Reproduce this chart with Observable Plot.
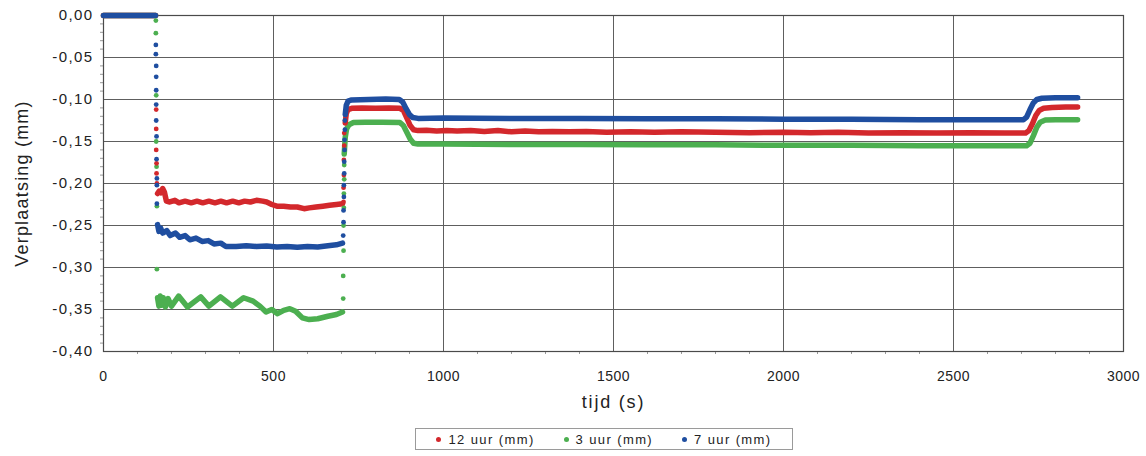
<!DOCTYPE html>
<html>
<head>
<meta charset="utf-8">
<script src="https://cdn.jsdelivr.net/npm/d3@7"></script>
<script src="https://cdn.jsdelivr.net/npm/@observablehq/plot@0.6"></script>
<style>
  html, body { margin: 0; padding: 0; background: #fff; font-family: "Liberation Sans", Arial, sans-serif; }
  #chart svg { display: block; font-family: "Liberation Sans", Arial, sans-serif; }
  #chart svg g[aria-label="y-axis tick label"] { font-size: 15px; letter-spacing: 1.4px; fill: #222; }
  #chart svg g[aria-label="x-axis tick label"] { font-size: 14px; letter-spacing: 0.5px; fill: #222; }
  #chart svg g[aria-label="y-axis label"] { font-size: 18px; letter-spacing: 1.2px; fill: #222; }
  #chart svg g[aria-label="x-axis label"] { font-size: 18px; letter-spacing: 1.8px; fill: #222; }
  #legend { margin: 8px 0 0 415px; width: 378px; height: 22px; border: 1px solid #9a9a9a; box-sizing: border-box;
            display: flex; align-items: center; justify-content: space-around; padding: 0 6px;
            font-family: "Liberation Sans", Arial, sans-serif; font-size: 13px; letter-spacing: 1.4px; color: #222; }
  #legend .item { display: inline-flex; align-items: center; white-space: nowrap; }
  #legend .sw { display: inline-block; width: 5px; height: 5px; border-radius: 50%; margin-right: 7px; }
</style>
</head>
<body>
<div id="chart"></div>
<div id="legend"></div>
<script>
// ---- Data ----
const seriesNames = ["12 uur (mm)", "3 uur (mm)", "7 uur (mm)"];
const seriesColors = ["#d3282c", "#4caf50", "#1f4ea0"];

const xTicks = [0, 500, 1000, 1500, 2000, 2500, 3000];
const yTicks = [0, -0.05, -0.10, -0.15, -0.20, -0.25, -0.30, -0.35, -0.40];
const xMinorTicks = d3.range(0, 3001, 100).filter(d => d % 500 !== 0);
const yMinorTicks = d3.range(-40, 1).map(d => d / 100).filter(d => Math.round(d * 100) % 5 !== 0);

// 12 uur (mm): [tijd, verplaatsing]; null breaks the line
const line12 = [
  [0,0],[153,0],[154,null],
  [159,-0.212],[164,-0.209],[169,-0.211],[174,-0.206],[179,-0.210],[185,-0.221],[195,-0.222],[210,-0.220],[222,-0.223],[240,-0.221],[258,-0.223],[275,-0.221],[292,-0.223],[310,-0.221],[328,-0.223],[345,-0.221],[362,-0.223],[380,-0.221],[398,-0.223],[415,-0.221],[432,-0.222],[450,-0.220],[468,-0.221],[480,-0.222],[495,-0.225],[510,-0.227],[530,-0.227],[550,-0.228],[570,-0.228],[590,-0.230],[605,-0.229],[625,-0.228],[645,-0.227],[665,-0.226],[685,-0.225],[703,-0.224],[704,null],
  [711,-0.128],[714,-0.117],[719,-0.112],[730,-0.1105],[760,-0.110],[800,-0.1105],[840,-0.110],[872,-0.1105],[882,-0.113],[892,-0.122],[902,-0.131],[912,-0.136],[925,-0.137],[950,-0.1365],[980,-0.1375],[1010,-0.137],[1040,-0.1375],[1080,-0.137],[1120,-0.138],[1160,-0.137],[1200,-0.1385],[1240,-0.1375],[1280,-0.1385],[1320,-0.138],[1370,-0.1385],[1420,-0.138],[1480,-0.139],[1550,-0.1385],[1620,-0.139],[1700,-0.1385],[1800,-0.139],[1900,-0.1395],[2000,-0.139],[2080,-0.1395],[2160,-0.139],[2250,-0.140],[2350,-0.1395],[2450,-0.140],[2550,-0.1395],[2650,-0.140],[2712,-0.140],[2722,-0.137],[2732,-0.129],[2742,-0.119],[2752,-0.113],[2765,-0.1105],[2790,-0.1095],[2830,-0.109],[2865,-0.109]
];
// 3 uur (mm)
const line3 = [
  [0,0],[153,0],[154,null],
  [159,-0.336],[163,-0.346],[167,-0.334],[171,-0.345],[176,-0.336],[182,-0.347],[190,-0.337],[200,-0.346],[221,-0.334],[247,-0.347],[286,-0.335],[310,-0.346],[344,-0.335],[379,-0.346],[412,-0.336],[440,-0.340],[460,-0.346],[478,-0.353],[495,-0.350],[512,-0.355],[530,-0.351],[548,-0.349],[565,-0.352],[585,-0.360],[605,-0.362],[630,-0.361],[660,-0.358],[685,-0.356],[703,-0.353],[704,null],
  [708,-0.165],[711,-0.145],[715,-0.135],[722,-0.130],[735,-0.1275],[770,-0.127],[820,-0.127],[872,-0.1275],[882,-0.131],[892,-0.139],[902,-0.147],[912,-0.152],[925,-0.153],[1000,-0.153],[1200,-0.1535],[1400,-0.1535],[1600,-0.154],[1800,-0.154],[2000,-0.1545],[2200,-0.1545],[2400,-0.155],[2600,-0.155],[2715,-0.155],[2725,-0.152],[2735,-0.143],[2745,-0.133],[2755,-0.127],[2770,-0.1245],[2800,-0.124],[2865,-0.124]
];
// 7 uur (mm)
const line7 = [
  [0,0],[153,0],[154,null],
  [159,-0.249],[163,-0.257],[168,-0.253],[174,-0.259],[186,-0.256],[196,-0.262],[212,-0.259],[224,-0.264],[240,-0.262],[254,-0.267],[272,-0.265],[290,-0.269],[308,-0.268],[325,-0.272],[345,-0.271],[360,-0.275],[390,-0.275],[420,-0.274],[450,-0.275],[480,-0.2745],[510,-0.2755],[540,-0.275],[570,-0.276],[600,-0.275],[630,-0.2755],[660,-0.274],[685,-0.273],[703,-0.271],[704,null],
  [711,-0.118],[714,-0.107],[719,-0.102],[730,-0.1005],[780,-0.100],[830,-0.0995],[870,-0.100],[880,-0.103],[890,-0.111],[900,-0.118],[910,-0.1215],[925,-0.1225],[1000,-0.122],[1200,-0.1225],[1400,-0.1225],[1600,-0.123],[1800,-0.123],[2000,-0.1235],[2200,-0.1235],[2400,-0.124],[2600,-0.124],[2706,-0.124],[2715,-0.121],[2725,-0.112],[2735,-0.104],[2745,-0.100],[2760,-0.0985],[2800,-0.098],[2865,-0.098]
];

// sparse measurement points during the fast load steps
const steps12 = [[155,-0.112],[155,-0.135],[155,-0.160],[156,-0.176],[156,-0.188],[157,-0.200],
                 [706,-0.222],[706,-0.205],[707,-0.190],[707,-0.172],[708,-0.155],[708,-0.140]];
const steps3  = [[154,-0.006],[154,-0.021],[155,-0.095],[155,-0.150],[156,-0.180],[157,-0.227],[157,-0.302],
                 [705,-0.337],[705,-0.310],[706,-0.280],[706,-0.250],[707,-0.229],[707,-0.212],[708,-0.195],[708,-0.178],[709,-0.163]];
const steps7  = [[154,-0.035],[154,-0.046],[155,-0.060],[155,-0.073],[155,-0.089],[155,-0.106],[155,-0.125],[156,-0.144],[156,-0.171],[157,-0.194],[157,-0.202],[157,-0.224],
                 [705,-0.262],[706,-0.246],[706,-0.232],[707,-0.216],[707,-0.202],[708,-0.188],[708,-0.174],[709,-0.160],[709,-0.148],[710,-0.136],[710,-0.125]];

// ---- Build tables ----
const toRows = (pairs, s) => pairs.map(([t, v]) => ({t, v, s}));
const lineRows = [...toRows(line3, seriesNames[1]), ...toRows(line12, seriesNames[0]), ...toRows(line7, seriesNames[2])];
const dotRows = [...toRows(steps3, seriesNames[1]), ...toRows(steps12, seriesNames[0]), ...toRows(steps7, seriesNames[2])];

const fmtY = d => d.toFixed(2).replace(".", ",").replace("-0,00", "0,00");

const chart = Plot.plot({
  width: 1146,
  height: 420,
  marginLeft: 103,
  marginRight: 23,
  marginTop: 15,
  marginBottom: 69,
  style: {background: "#fff", color: "#222"},
  x: {domain: [0, 3000]},
  y: {domain: [-0.4, 0]},
  color: {domain: seriesNames, range: seriesColors},
  marks: [
    Plot.gridY(yTicks, {stroke: "#5e5e5e", strokeOpacity: 1, strokeWidth: 1}),
    Plot.gridX(xTicks, {stroke: "#5e5e5e", strokeOpacity: 1, strokeWidth: 1}),
    Plot.axisY(yMinorTicks, {tickSize: 3, tickFormat: () => "", stroke: "#999", label: null}),
    Plot.axisX(xMinorTicks, {tickSize: 3, tickFormat: () => "", stroke: "#999", label: null}),
    Plot.axisY(yTicks, {tickSize: 0, tickPadding: 10, tickFormat: fmtY, label: "Verplaatsing (mm)", labelAnchor: "center", labelOffset: 88, labelArrow: "none"}),
    Plot.axisX(xTicks, {tickSize: 0, tickPadding: 20, tickFormat: d => String(d), label: "tijd (s)", labelAnchor: "center", labelOffset: 56, labelArrow: "none"}),
    Plot.frame({stroke: "#4a4a4a", strokeWidth: 1.2}),
    Plot.line(lineRows, {x: "t", y: "v", z: "s", stroke: "s", strokeWidth: 5.5, strokeLinecap: "round", strokeLinejoin: "round"}),
    Plot.dot(dotRows, {x: "t", y: "v", fill: "s", r: 2.4})
  ]
});
document.getElementById("chart").append(chart);

// legend below the chart
const legend = document.getElementById("legend");
seriesNames.forEach((name, i) => {
  const item = document.createElement("span");
  item.className = "item";
  const sw = document.createElement("span");
  sw.className = "sw";
  sw.style.background = seriesColors[i];
  item.append(sw, document.createTextNode(name));
  legend.append(item);
});
</script>
</body>
</html>
